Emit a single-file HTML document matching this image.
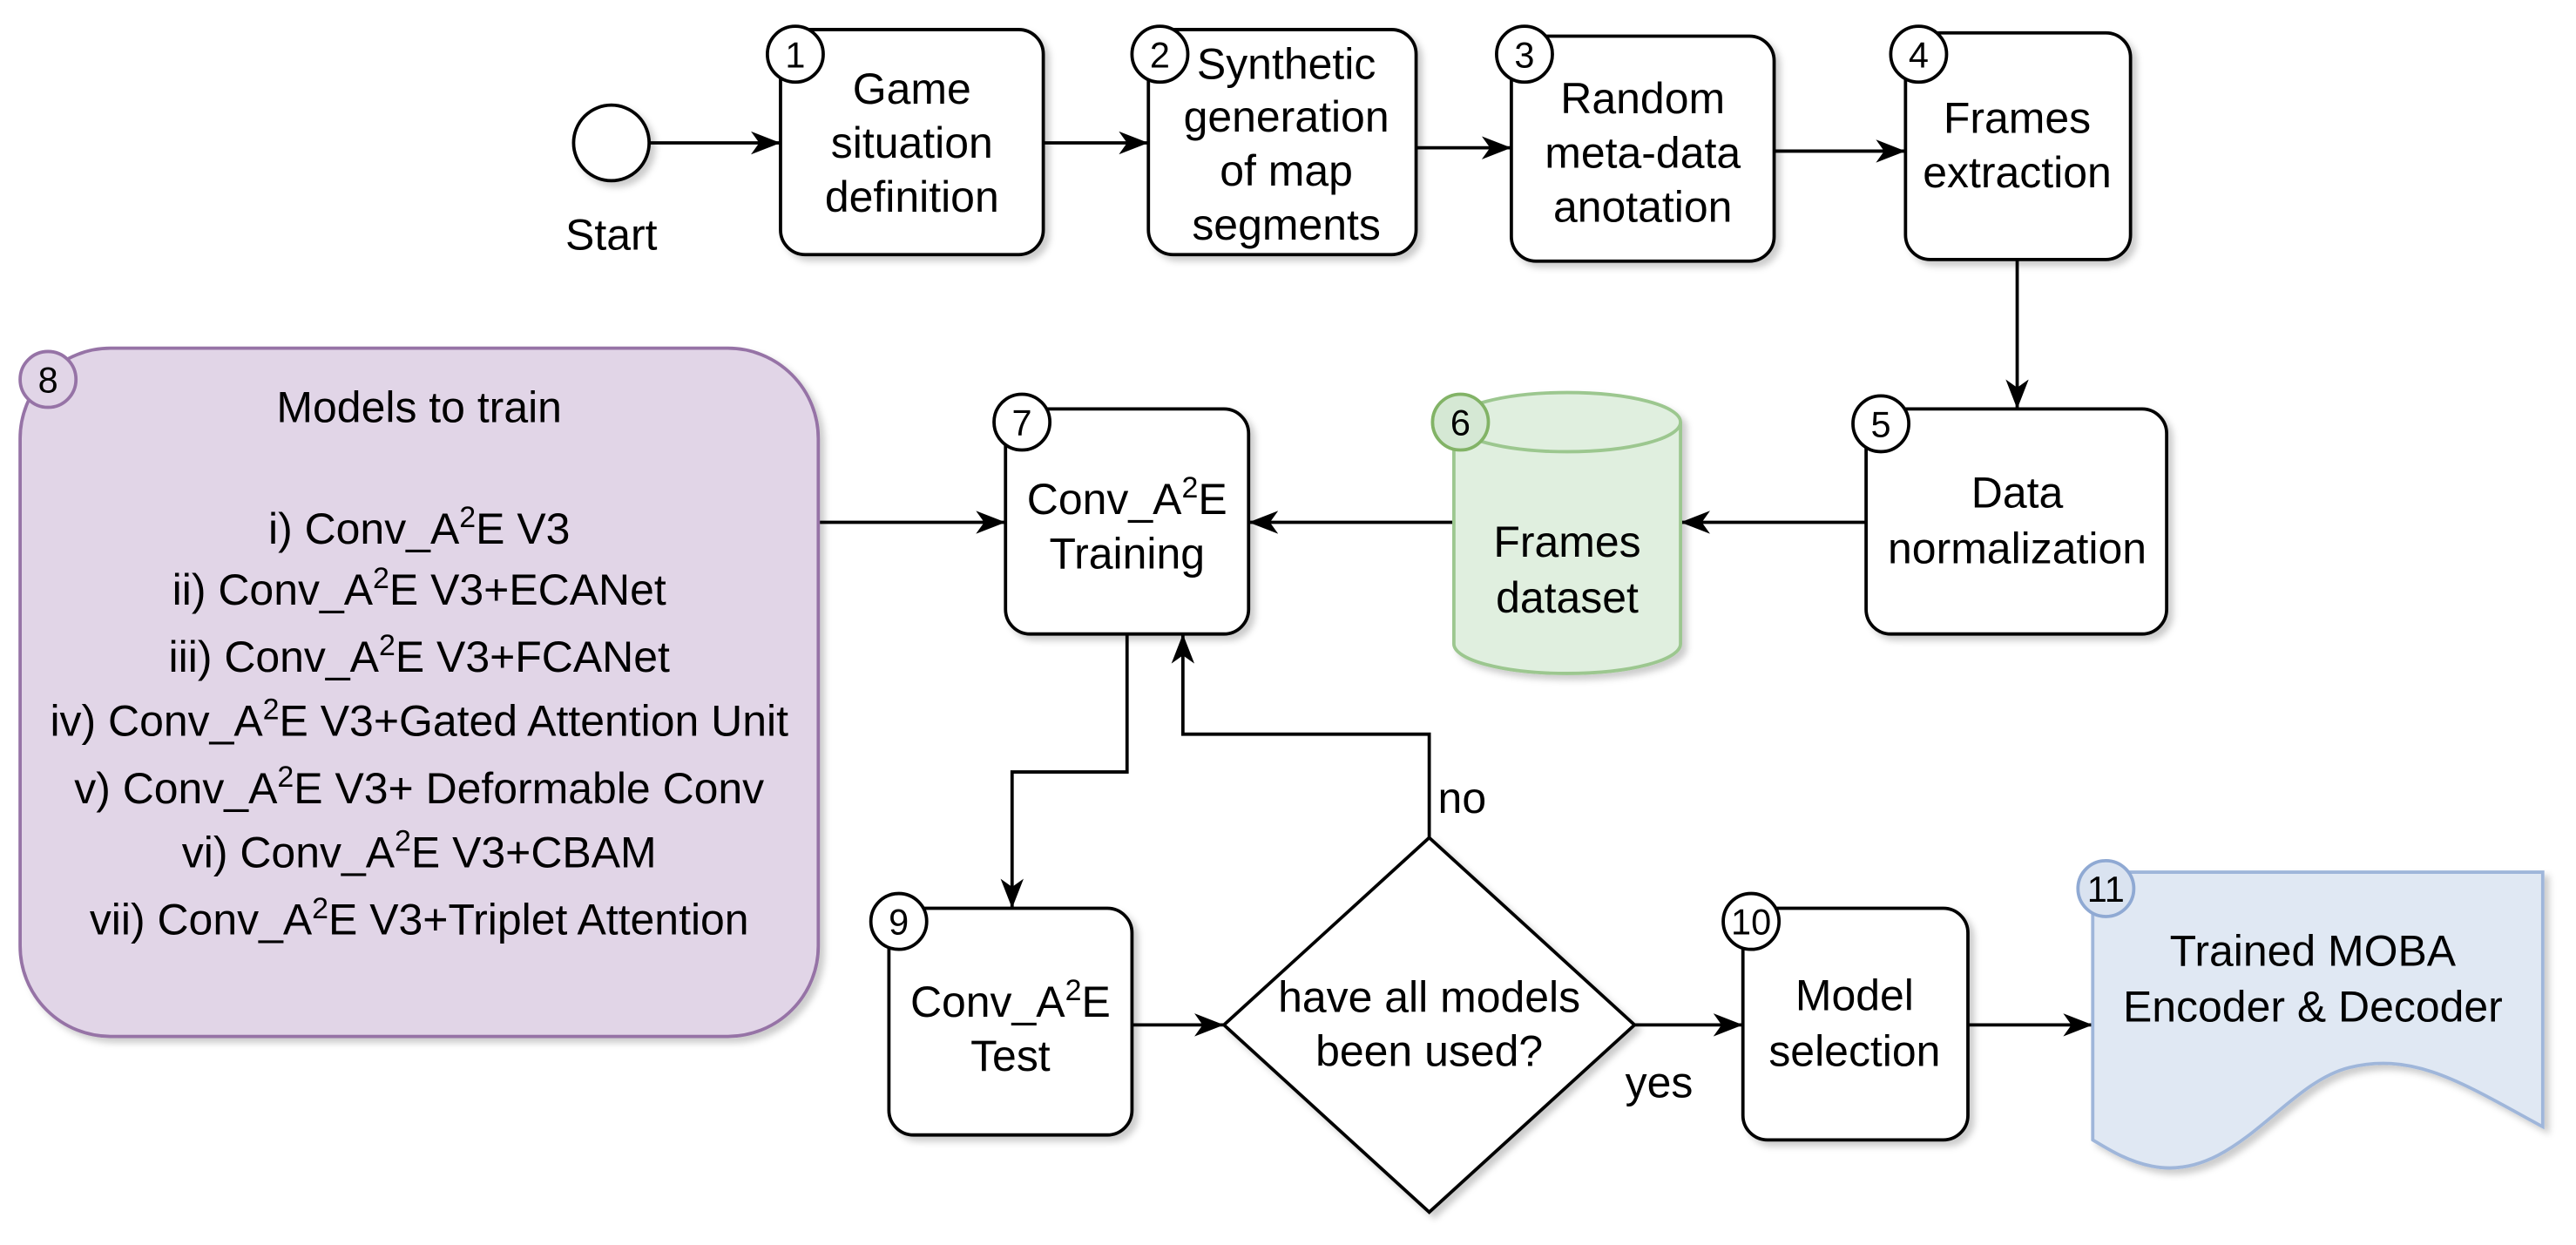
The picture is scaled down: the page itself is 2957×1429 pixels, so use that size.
<!DOCTYPE html>
<html><head><meta charset="utf-8"><style>html,body{margin:0;padding:0;background:#fff}svg{display:block}</style></head><body>
<svg width="2957" height="1429" viewBox="0 0 1568 758" xmlns="http://www.w3.org/2000/svg" font-family="Liberation Sans, Arial, sans-serif" font-size="26.5" text-anchor="middle">
<defs>
<marker id="b" markerWidth="20" markerHeight="20" refX="18" refY="7" orient="auto" markerUnits="userSpaceOnUse"><path d="M0,0 L18,7 L0,14 L5,7 z" fill="#000"/></marker>
<filter id="s" x="-10%" y="-10%" width="130%" height="130%"><feDropShadow dx="3" dy="3" stdDeviation="2" flood-color="#000" flood-opacity="0.2"/></filter>
</defs>
<g stroke="#000" stroke-width="2" fill="none" marker-end="url(#b)">
<path d="M395,87 H475"/><path d="M635,87 H699"/><path d="M862,90 H920"/><path d="M1080,92 H1160"/>
<path d="M1228,158 V249"/><path d="M1136,318 H1023"/><path d="M885,318 H760"/><path d="M498,318 H612"/>
<path d="M686,386 V470 H616 V553"/><path d="M870,510 V447 H720 V386"/>
<path d="M689,624 H745"/><path d="M995,624 H1061"/><path d="M1198,624 H1274"/>
</g>
<g filter="url(#s)" stroke-width="2">
<circle cx="372" cy="87" r="23" fill="#fff" stroke="#000"/>
<rect x="475" y="18" width="160" height="137" rx="15" fill="#fff" stroke="#000"/>
<rect x="699" y="18" width="163" height="137" rx="15" fill="#fff" stroke="#000"/>
<rect x="920" y="22" width="160" height="137" rx="15" fill="#fff" stroke="#000"/>
<rect x="1160" y="20" width="137" height="138" rx="15" fill="#fff" stroke="#000"/>
<rect x="1136" y="249" width="183" height="137" rx="15" fill="#fff" stroke="#000"/>
<rect x="612" y="249" width="148" height="137" rx="15" fill="#fff" stroke="#000"/>
<rect x="12" y="212" width="486" height="419" rx="55" fill="#e1d5e7" stroke="#9673a6"/>
<rect x="541" y="553" width="148" height="138" rx="15" fill="#fff" stroke="#000"/>
<path d="M870,510 L995,624 L870,738 L745,624 Z" fill="#fff" stroke="#000"/>
<rect x="1061" y="553" width="137" height="141" rx="15" fill="#fff" stroke="#000"/>
<path d="M885,257 V392 A69,18 0 0 0 1023,392 V257 A69,18 0 0 0 885,257 Z" fill="#e0efdf" stroke="#9cc78f"/>
<path d="M885,257 A69,18 0 0 0 1023,257" fill="none" stroke="#9cc78f"/>
<path d="M1274,531 H1548 V686 C1500,660 1470,640 1430,650 C1390,660 1360,720 1310,710 C1295,707 1284,700 1274,694 Z" fill="#e0e8f3" stroke="#9fb6da"/>
</g>
<g>
<text x="372" y="152">Start</text>
<text x="555" y="63">Game</text><text x="555" y="96">situation</text><text x="555" y="129">definition</text>
<text x="783" y="48">Synthetic</text><text x="783" y="80">generation</text><text x="783" y="113">of map</text><text x="783" y="146">segments</text>
<text x="1000" y="69">Random</text><text x="1000" y="102">meta-data</text><text x="1000" y="135">anotation</text>
<text x="1228" y="81">Frames</text><text x="1228" y="114">extraction</text>
<text x="1228" y="309">Data</text><text x="1228" y="343">normalization</text>
<text x="954" y="339">Frames</text><text x="954" y="373">dataset</text>
<text x="686" y="313">Conv_A<tspan dy="-10" font-size="18">2</tspan><tspan dy="10">E</tspan></text><text x="686" y="346">Training</text>
<text x="615" y="619">Conv_A<tspan dy="-10" font-size="18">2</tspan><tspan dy="10">E</tspan></text><text x="615" y="652">Test</text>
<text x="870" y="616">have all models</text><text x="870" y="649">been used?</text>
<text x="1129" y="615">Model</text><text x="1129" y="649">selection</text>
<text x="1408" y="588">Trained MOBA</text><text x="1408" y="622">Encoder &amp; Decoder</text>
<text x="890" y="495">no</text><text x="1010" y="668">yes</text>
<text x="255" y="257">Models to train</text>
<text x="255" y="331">i) Conv_A<tspan dy="-10" font-size="18">2</tspan><tspan dy="10">E V3</tspan></text>
<text x="255" y="368">ii) Conv_A<tspan dy="-10" font-size="18">2</tspan><tspan dy="10">E V3+ECANet</tspan></text>
<text x="255" y="409">iii) Conv_A<tspan dy="-10" font-size="18">2</tspan><tspan dy="10">E V3+FCANet</tspan></text>
<text x="255" y="448">iv) Conv_A<tspan dy="-10" font-size="18">2</tspan><tspan dy="10">E V3+Gated Attention Unit</tspan></text>
<text x="255" y="489">v) Conv_A<tspan dy="-10" font-size="18">2</tspan><tspan dy="10">E V3+ Deformable Conv</tspan></text>
<text x="255" y="528">vi) Conv_A<tspan dy="-10" font-size="18">2</tspan><tspan dy="10">E V3+CBAM</tspan></text>
<text x="255" y="569">vii) Conv_A<tspan dy="-10" font-size="18">2</tspan><tspan dy="10">E V3+Triplet Attention</tspan></text>
</g>
<g stroke-width="2" font-size="22">
<circle cx="484" cy="33" r="17" fill="#fff" stroke="#000"/><text x="484" y="41">1</text>
<circle cx="706" cy="33" r="17" fill="#fff" stroke="#000"/><text x="706" y="41">2</text>
<circle cx="928" cy="33" r="17" fill="#fff" stroke="#000"/><text x="928" y="41">3</text>
<circle cx="1168" cy="33" r="17" fill="#fff" stroke="#000"/><text x="1168" y="41">4</text>
<circle cx="1145" cy="258" r="17" fill="#fff" stroke="#000"/><text x="1145" y="266">5</text>
<circle cx="889" cy="257" r="17" fill="#d5e8d4" stroke="#82b366"/><text x="889" y="265">6</text>
<circle cx="622" cy="257" r="17" fill="#fff" stroke="#000"/><text x="622" y="265">7</text>
<circle cx="29" cy="231" r="17" fill="#e1d5e7" stroke="#9673a6"/><text x="29" y="239">8</text>
<circle cx="547" cy="561" r="17" fill="#fff" stroke="#000"/><text x="547" y="569">9</text>
<circle cx="1066" cy="561" r="17" fill="#fff" stroke="#000"/><text x="1066" y="569">10</text>
<circle cx="1282" cy="541" r="17" fill="#dae3f0" stroke="#8fa9d3"/><text x="1282" y="549">11</text>
</g>
</svg>
</body></html>
